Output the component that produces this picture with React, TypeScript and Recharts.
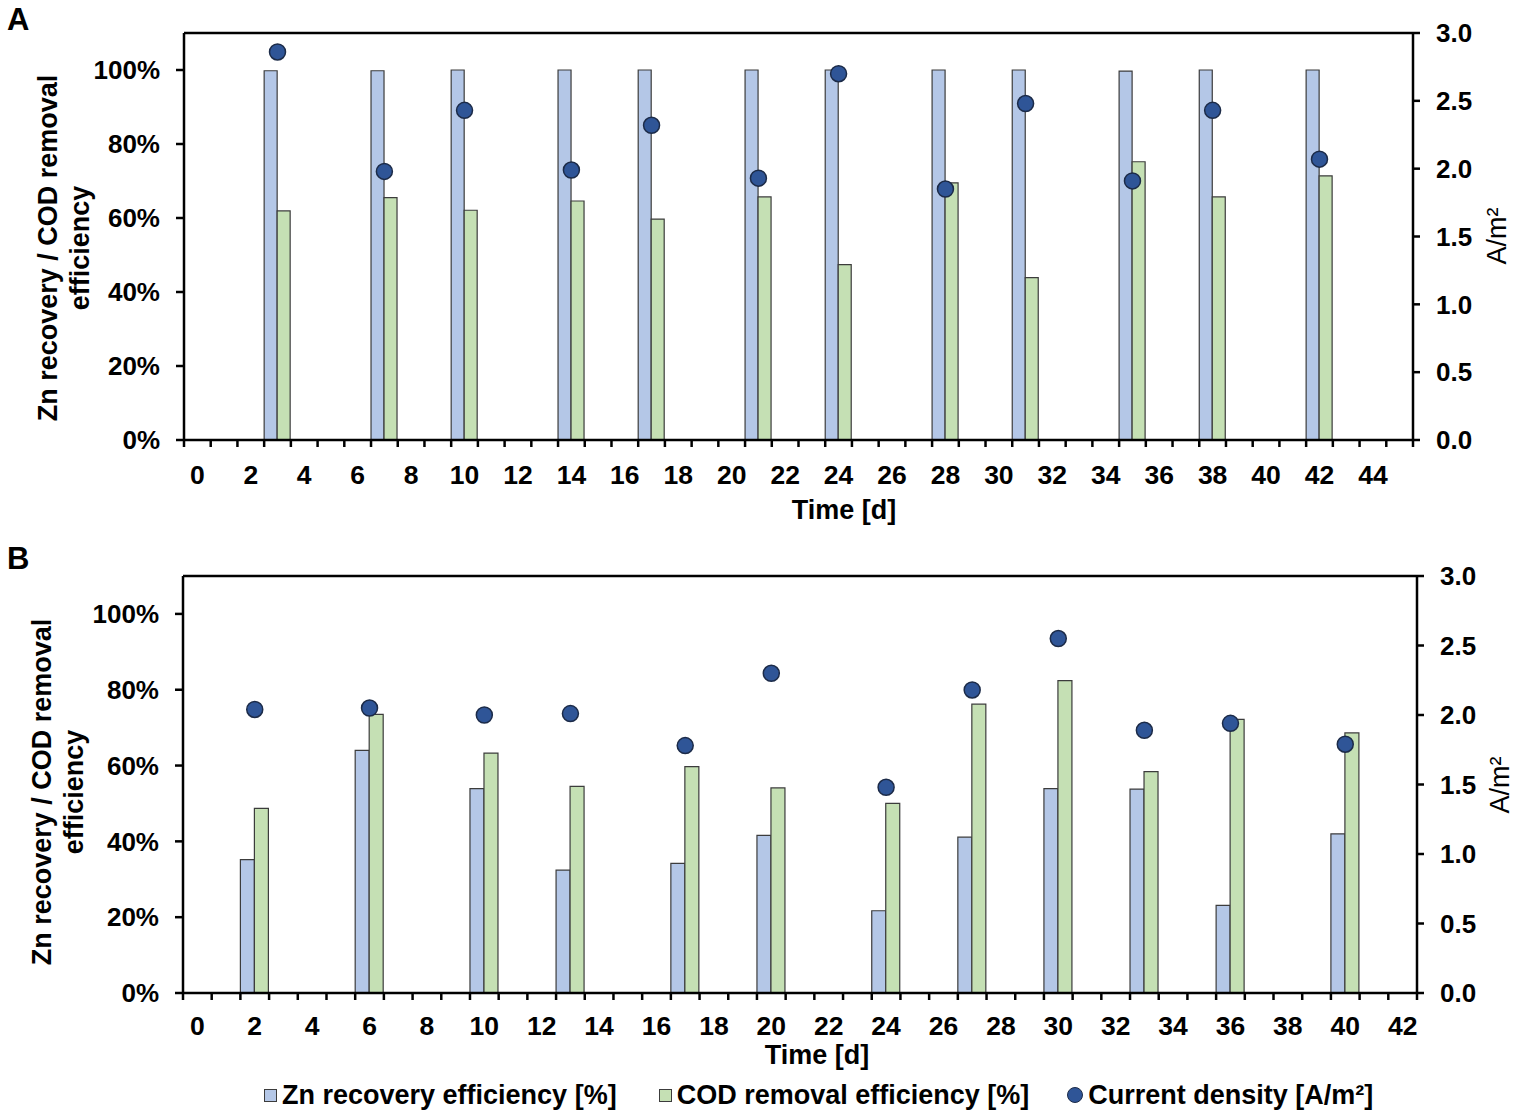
import { Bar, ComposedChart, Label, Line, ReferenceLine, XAxis, YAxis } from 'recharts'

// sampling days and measured values, panel A
const daysA = [3, 7, 10, 14, 17, 21, 24, 28, 31, 35, 38, 42]
const znA = [99.8, 99.8, 100, 100, 100, 100, 100, 100, 100, 99.7, 100, 100]
const codA = [61.9, 65.5, 62.1, 64.6, 59.7, 65.7, 47.4, 69.5, 43.9, 75.2, 65.7, 71.4]
const cdA = [2.86, 1.98, 2.43, 1.99, 2.32, 1.93, 2.7, 1.85, 2.48, 1.91, 2.43, 2.07]

// panel B
const daysB = [2, 6, 10, 13, 17, 20, 24, 27, 30, 33, 36, 40]
const znB = [35.2, 64.0, 53.9, 32.4, 34.2, 41.6, 21.7, 41.1, 53.9, 53.8, 23.1, 42.0]
const codB = [48.7, 73.5, 63.3, 54.5, 59.7, 54.1, 50.0, 76.2, 82.4, 58.4, 72.2, 68.6]
const cdB = [2.04, 2.05, 2.0, 2.01, 1.78, 2.3, 1.48, 2.18, 2.55, 1.89, 1.94, 1.79]

const lastDayA = 45
const lastDayB = 42

const pctTicks = [0, 20, 40, 60, 80, 100]
const cdTicks = [0, 0.5, 1, 1.5, 2, 2.5, 3]

const FONT = '"Liberation Sans", Arial, sans-serif'
const ZN_FILL = '#b4c7e7'
const COD_FILL = '#c5e0b4'
const DOT_FILL = '#2f5597'
const DOT_STROKE = '#1c2b48'
const BAR_STROKE = '#3c3c3c'

function buildRows(last: number, days: number[], zn: number[], cod: number[], cd: number[]) {
  const rows = []
  for (let d = 0; d <= last; d++) {
    const i = days.indexOf(d)
    rows.push({
      day: d,
      zn: i >= 0 ? zn[i] : null,
      cod: i >= 0 ? cod[i] : null,
      cd: i >= 0 ? cd[i] : null,
    })
  }
  return rows
}

const rowsA = buildRows(lastDayA, daysA, znA, codA, cdA)
const rowsB = buildRows(lastDayB, daysB, znB, codB, cdB)

function DayTick(props: any) {
  const { x, y, payload, band, last, labelDy } = props
  const d = payload.value
  const left = x - band / 2
  return (
    <g>
      <line x1={left} y1={y} x2={left} y2={y + 7} stroke="#000" strokeWidth={2.5} />
      {d === last && (
        <line x1={x + band / 2} y1={y} x2={x + band / 2} y2={y + 7} stroke="#000" strokeWidth={2.5} />
      )}
      {d % 2 === 0 && (
        <text
          x={x}
          y={y + labelDy}
          textAnchor="middle"
          dominantBaseline="central"
          fontSize={26.5}
          fontWeight="bold"
          fontFamily={FONT}
          fill="#000"
        >
          {d}
        </text>
      )}
    </g>
  )
}

interface PanelProps {
  rows: any[]
  last: number
  top: number
  height: number
  plotTop: number
  plotHeight: number
  leftWidth: number
  rightWidth: number
  tickDy: number
  titleX: number
  titleY: number
  yLabelX: number
  yLabelY: number
  rLabelX: number
  rLabelY: number
}

function Panel(p: PanelProps) {
  const width = 1514
  const plotWidth = width - p.leftWidth - p.rightWidth
  const band = plotWidth / (p.last + 1)
  const xHeight = p.height - p.plotTop - p.plotHeight

  return (
    <div style={{ position: 'absolute', left: 0, top: p.top }}>
      <ComposedChart
        width={width}
        height={p.height}
        data={p.rows}
        margin={{ top: p.plotTop, right: 0, bottom: 0, left: 0 }}
        barCategoryGap={0}
        barGap={0}
      >
        <XAxis
          dataKey="day"
          type="category"
          interval={0}
          height={xHeight}
          axisLine={{ stroke: '#000', strokeWidth: 2.5 }}
          tickLine={false}
          tickSize={0}
          tickMargin={0}
          tick={<DayTick band={band} last={p.last} labelDy={p.tickDy} />}
        >
          <Label
            content={() => (
              <text
                x={p.titleX}
                y={p.titleY}
                textAnchor="middle"
                dominantBaseline="central"
                fontSize={27}
                fontWeight="bold"
                fontFamily={FONT}
                fill="#000"
              >
                Time [d]
              </text>
            )}
          />
        </XAxis>
        <YAxis
          yAxisId="left"
          orientation="left"
          width={p.leftWidth}
          domain={[0, 110]}
          ticks={pctTicks}
          tickFormatter={(v) => `${v}%`}
          axisLine={{ stroke: '#000', strokeWidth: 2.5 }}
          tickLine={{ stroke: '#000', strokeWidth: 2.5 }}
          tickSize={8}
          tickMargin={16}
          tick={{ fontSize: 26, fontWeight: 'bold', fontFamily: FONT, fill: '#000' }}
        >
          <Label
            content={() => (
              <text
                transform={`rotate(-90, ${p.yLabelX}, ${p.yLabelY})`}
                x={p.yLabelX}
                y={p.yLabelY}
                textAnchor="middle"
                fontSize={27}
                fontWeight="bold"
                fontFamily={FONT}
                fill="#000"
              >
                <tspan x={p.yLabelX} dy={-6}>
                  Zn recovery / COD removal
                </tspan>
                <tspan x={p.yLabelX} dy={32}>
                  efficiency
                </tspan>
              </text>
            )}
          />
        </YAxis>
        <YAxis
          yAxisId="right"
          orientation="right"
          width={p.rightWidth}
          domain={[0, 3]}
          ticks={cdTicks}
          tickFormatter={(v) => v.toFixed(1)}
          axisLine={{ stroke: '#000', strokeWidth: 2.5 }}
          tickLine={{ stroke: '#000', strokeWidth: 2.5 }}
          tickSize={7}
          tickMargin={16}
          tick={{ fontSize: 26, fontWeight: 'bold', fontFamily: FONT, fill: '#000' }}
        >
          <Label
            content={() => (
              <text
                transform={`rotate(-90, ${p.rLabelX}, ${p.rLabelY})`}
                x={p.rLabelX}
                y={p.rLabelY}
                textAnchor="middle"
                dominantBaseline="central"
                fontSize={27}
                fontFamily={FONT}
                fill="#000"
              >
                A/m²
              </text>
            )}
          />
        </YAxis>
        <ReferenceLine yAxisId="left" y={110} stroke="#000" strokeWidth={2.5} />
        <Bar
          yAxisId="left"
          dataKey="zn"
          fill={ZN_FILL}
          stroke={BAR_STROKE}
          strokeWidth={1.2}
          isAnimationActive={false}
        />
        <Bar
          yAxisId="left"
          dataKey="cod"
          fill={COD_FILL}
          stroke={BAR_STROKE}
          strokeWidth={1.2}
          isAnimationActive={false}
        />
        <Line
          yAxisId="right"
          dataKey="cd"
          stroke="none"
          dot={{ r: 8, fill: DOT_FILL, stroke: DOT_STROKE, strokeWidth: 1.5 }}
          activeDot={false}
          isAnimationActive={false}
        />
      </ComposedChart>
    </div>
  )
}

const textStyle = {
  fontFamily: FONT,
  fontWeight: 'bold' as const,
  fontSize: 27,
  color: '#000',
}

function LegendRow() {
  const box = (fill: string) => (
    <span
      style={{
        display: 'inline-block',
        width: 11,
        height: 11,
        background: fill,
        border: `1.5px solid ${BAR_STROKE}`,
        marginRight: 5,
      }}
    />
  )
  return (
    <div
      style={{
        ...textStyle,
        position: 'absolute',
        left: 264,
        top: 1078,
        display: 'flex',
        alignItems: 'center',
        whiteSpace: 'nowrap',
        lineHeight: '34px',
      }}
    >
      {box(ZN_FILL)}
      <span style={{ marginRight: 42 }}>Zn recovery efficiency [%]</span>
      {box(COD_FILL)}
      <span style={{ marginRight: 38 }}>COD removal efficiency [%]</span>
      <span
        style={{
          display: 'inline-block',
          width: 14,
          height: 14,
          borderRadius: '50%',
          background: DOT_FILL,
          border: `1.5px solid ${DOT_STROKE}`,
          marginRight: 5,
        }}
      />
      <span>Current density [A/m²]</span>
    </div>
  )
}

export default function App() {
  return (
    <div
      style={{
        position: 'absolute',
        left: 0,
        top: 0,
        width: 1514,
        height: 1117,
        background: '#fff',
        overflow: 'hidden',
      }}
    >
      <div style={{ ...textStyle, fontSize: 31, position: 'absolute', left: 7, top: 2 }}>A</div>
      <div style={{ ...textStyle, fontSize: 31, position: 'absolute', left: 7, top: 541 }}>B</div>
      <Panel
        rows={rowsA}
        last={lastDayA}
        top={0}
        height={540}
        plotTop={33}
        plotHeight={407}
        leftWidth={184}
        rightWidth={101}
        tickDy={35}
        titleX={844}
        titleY={510}
        yLabelX={63}
        yLabelY={248}
        rLabelX={1497}
        rLabelY={236}
      />
      <Panel
        rows={rowsB}
        last={lastDayB}
        top={540}
        height={530}
        plotTop={36}
        plotHeight={417}
        leftWidth={183}
        rightWidth={97}
        tickDy={33}
        titleX={817}
        titleY={515}
        yLabelX={57}
        yLabelY={252}
        rLabelX={1500}
        rLabelY={245}
      />
      <LegendRow />
    </div>
  )
}
